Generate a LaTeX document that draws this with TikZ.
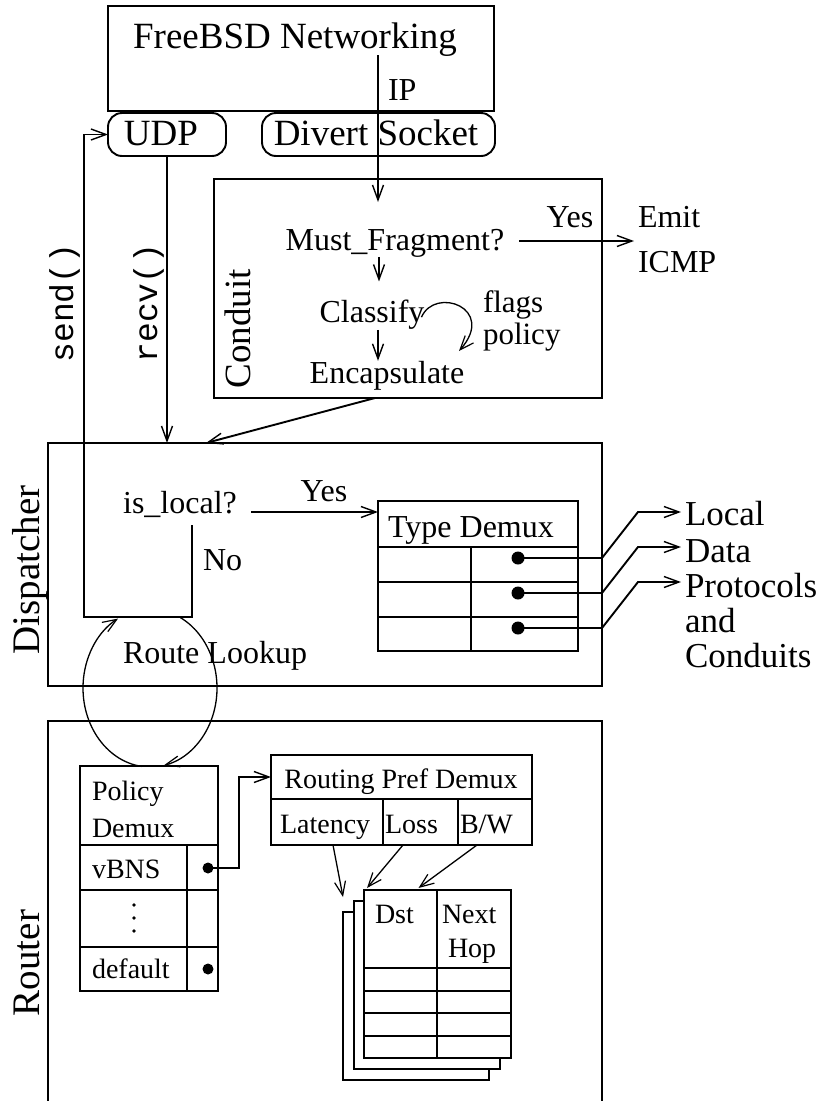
\documentclass[tikz,border=0pt]{standalone}
\usepackage{fontspec}
\setmainfont{Liberation Serif}
\setmonofont{Liberation Mono}
\usetikzlibrary{arrows.meta,calc}
\begin{document}
\begin{tikzpicture}[x=1pt,y=-1pt,
  lw/.style={line width=1.9pt},
  box/.style={draw,line width=1.9pt,inner sep=0pt,outer sep=0pt,anchor=north west},
  rbox/.style={box,rounded corners=14pt},
  arr/.style={line width=1.9pt,-{Straight Barb[length=15pt,width=11pt,line width=1.4pt]}},
  carr/.style={line width=1.3pt,-{Straight Barb[length=14pt,width=11pt,line width=1.2pt]}},
  txt/.style={inner sep=0pt,outer sep=0pt,anchor=base},
  big/.style={txt,font=\fontsize{37}{40}\selectfont},
  huge/.style={txt,font=\fontsize{39}{42}\selectfont},
  mid/.style={txt,font=\fontsize{32}{36}\selectfont},
  lab/.style={txt,anchor=base west,font=\fontsize{35}{38}\selectfont},
  sml/.style={txt,font=\fontsize{28}{32}\selectfont},
  mono/.style={txt,font=\fontsize{33}{36}\selectfont\ttfamily},
  dot/.style={circle,fill,inner sep=0pt,minimum size=13pt},
]
\useasboundingbox (0,0) rectangle (822,1101);

% ---------- FreeBSD networking ----------
\node[box,minimum width=386pt,minimum height=105pt] (bsd) at (108,6) {};
\node[big] (bsdt) at (295,48) {FreeBSD Networking};
\node[mid,anchor=base west] (ip) at (388,100) {IP};
\node[rbox,minimum width=118pt,minimum height=43pt] (udp) at (108,113) {};
\node[big] (udpt) at (161,145) {UDP};
\node[rbox,minimum width=233pt,minimum height=43pt] (divert) at (262,113) {};
\node[big] (divt) at (376,145) {Divert Socket};

% ---------- Conduit ----------
\node[box,minimum width=388pt,minimum height=219pt] (conduit) at (214,179) {};
\node[big,rotate=90] (condl) at (250,329) {Conduit};
\node[mid] (mf) at (395,250) {Must\_Fragment?};
\node[mid] (yes1) at (570,227) {Yes};
\node[mid,anchor=base west] (emit) at (638,227) {Emit};
\node[mid,anchor=base west] (icmp) at (638,272) {ICMP};
\node[mid] (cls) at (372,322) {Classify};
\node[txt,anchor=base west,font=\fontsize{31}{34}\selectfont] (flags) at (483,312) {flags};
\node[txt,anchor=base west,font=\fontsize{31}{34}\selectfont] (policy) at (483,344) {policy};
\node[mid] (enc) at (387,383) {Encapsulate};

\coordinate (ipsrc) at (378,55);
\coordinate (iptip) at (378,202);
\draw[arr] (ipsrc) -- (iptip);
\coordinate (mfout) at (519,241);
\coordinate (icmptip) at (634,241);
\draw[arr] (mfout) -- (icmptip);
\draw[arr] ($(mf.south)+(-16,0)$) -- ($(cls.north)+(7,-18)$);
\draw[arr] ($(cls.south)+(6,1)$) -- ($(enc.north)+(-9,0)$);
\coordinate (flagtip) at (459,351);
\draw[carr] ($(cls.east)+(-3,3)$) .. controls (435,286) and (497,308) .. (flagtip);

% ---------- Dispatcher ----------
\node[box,minimum width=554pt,minimum height=243pt] (disp) at (48,443) {};
\node[huge,rotate=90] (displ) at (39,570) {Dispatcher};
\node[mid] (isl) at (180,513) {is\_local?};
\node[mid] (yes2) at (324,501) {Yes};
\node[mid,anchor=base west] (no) at (203,570) {No};
\node[mid] (rl) at (215,663) {Route Lookup};

\coordinate (encout) at (375,398);
\coordinate (disptip) at (206,443);
\draw[arr] (encout) -- (disptip);

% recv / send
\draw[arr] (udp.south) -- (udp.south |- disp.north);
\node[mono,rotate=90] (recvl) at (157,303) {recv()};
\node[mono,rotate=90] (sendl) at (73,303) {send()};
\coordinate (nosrc) at (192,525);
\coordinate (sendc) at (84,617);
\draw[arr] (nosrc) |- (sendc) |- (udp.west);

% Type Demux
\node[box,minimum width=200pt,minimum height=150pt] (tdemux) at (378,501) {};
\draw[lw] (378,547) -- (578,547) (378,582) -- (578,582) (378,617) -- (578,617) (471,547) -- (471,651);
\node[mid] (tdt) at (471,537) {Type Demux};
\coordinate (islout) at (251,512);
\draw[arr] (islout) -- (islout -| tdemux.west);

\node[lab] (local) at (685,525) {Local};
\node[lab] (data) at (685,562) {Data};
\node[lab] (proto) at (685,597) {Protocols};
\node[lab] (andl) at (685,632) {and};
\node[lab] (cond) at (685,667) {Conduits};

\node[dot] (d1) at (518,558) {};
\node[dot] (d2) at (518,593) {};
\node[dot] (d3) at (518,628) {};
\draw[arr] (d1.center) -- ++(84,0) -- ++(36,-46) -- ++(43,0);
\draw[arr] (d2.center) -- ++(84,0) -- ++(36,-46) -- ++(43,0);
\draw[arr] (d3.center) -- ++(84,0) -- ++(36,-46) -- ++(43,0);

% Route lookup loop
\coordinate (ellc) at (150,688);
\draw[carr] ($(ellc)+(263:67pt and 79pt)$) arc[start angle=263,end angle=118.5,x radius=67pt,y radius=79pt];
\draw[carr] ($(ellc)+(63:67pt and 79pt)$) arc[start angle=63,end angle=-78,x radius=67pt,y radius=79pt];

% ---------- Router ----------
\node[box,minimum width=554pt,minimum height=420pt] (router) at (48,721) {};
\node[huge,rotate=90] (routl) at (39,963) {Router};

% Policy Demux
\node[box,minimum width=138pt,minimum height=225pt] (pdemux) at (80,766) {};
\draw[lw] (80,845) -- (218,845) (80,890) -- (218,890) (80,947) -- (218,947) (187,845) -- (187,991);
\node[sml,anchor=base west] (pol1) at (92,800) {Policy};
\node[sml,anchor=base west] (pol2) at (92,837) {Demux};
\node[sml,anchor=base west] (vbns) at (92,878) {vBNS};
\node[sml,anchor=base west] (deflt) at (92,978) {default};
\fill (134,905) circle (1.8pt) (134,918) circle (1.8pt) (134,931) circle (1.8pt);
\node[dot,minimum size=11pt] (vdot) at (208,868) {};
\node[dot,minimum size=11pt] (ddot) at (208,969) {};

% Routing Pref Demux
\node[box,minimum width=261pt,minimum height=44pt] (rhead) at (271,755) {};
\node[box,minimum width=261pt,minimum height=46pt] (rcols) at (271,799) {};
\draw[lw] (383,799) -- (383,845) (458,799) -- (458,845);
\node[sml] (rpt) at (401,788) {Routing Pref Demux};
\node[sml,anchor=base west] (lat) at (280,833) {Latency};
\node[sml,anchor=base west] (loss) at (385,833) {Loss};
\node[sml,anchor=base west] (bw) at (460,833) {B/W};

\draw[arr] (vdot.center) -- ++(31,0) |- (rhead.west);

% stacked route tables
\node[box,fill=white,minimum width=146pt,minimum height=168pt] (rt3) at (343,912) {};
\node[box,fill=white,minimum width=146pt,minimum height=168pt] (rt2) at (354,901) {};
\node[box,fill=white,minimum width=147pt,minimum height=168pt] (rt1) at (364,890) {};
\draw[lw] (364,968) -- (511,968) (364,991) -- (511,991) (364,1013) -- (511,1013) (364,1036) -- (511,1036) (437,890) -- (437,1058);
\node[sml,anchor=base west] (dst) at (375,923) {Dst};
\node[sml,anchor=base west] (nxt) at (442,923) {Next};
\node[sml,anchor=base west] (hop) at (448,957) {Hop};

\draw[carr] (rcols.south west) ++(62,0) -- ($(rt3.north west)+(0,-15)$);
\draw[carr] (rcols.south west) ++(132,0) -- ($(rt1.north west)+(3,-2)$);
\draw[carr] (rcols.south west) ++(206,0) -- ($(rt1.north)+(-19,-2)$);
\end{tikzpicture}
\end{document}
